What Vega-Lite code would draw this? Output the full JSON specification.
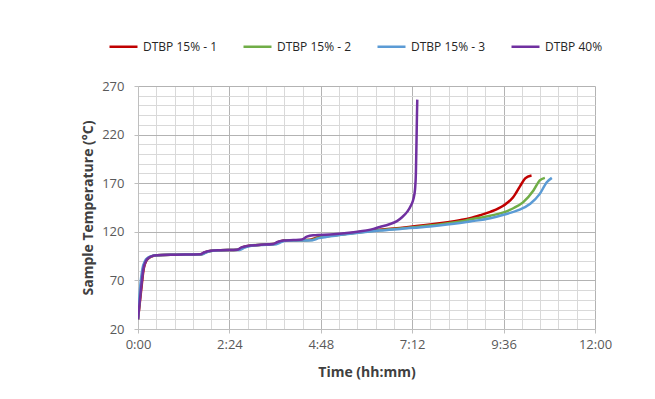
{
  "$schema": "https://vega.github.io/schema/vega-lite/v6.json",
  "width": 457,
  "height": 243,
  "autosize": {"type": "none"},
  "padding": {"left": 138, "top": 86, "right": 60, "bottom": 70},
  "background": "white",
  "config": {
    "font": "Open Sans",
    "view": {"stroke": null},
    "axis": {"labelFont": "Open Sans", "titleFont": "Open Sans"}
  },
  "datasets": {
    "curves": [
      {"s": "DTBP 15% - 1", "t": 0, "y": 30}, {"s": "DTBP 15% - 1", "t": 5, "y": 60}, {"s": "DTBP 15% - 1", "t": 9, "y": 82}, {"s": "DTBP 15% - 1", "t": 13, "y": 90}, {"s": "DTBP 15% - 1", "t": 17, "y": 93}, {"s": "DTBP 15% - 1", "t": 23, "y": 95}, {"s": "DTBP 15% - 1", "t": 30, "y": 96}, {"s": "DTBP 15% - 1", "t": 60, "y": 96.5}, {"s": "DTBP 15% - 1", "t": 99, "y": 97}, {"s": "DTBP 15% - 1", "t": 106, "y": 99}, {"s": "DTBP 15% - 1", "t": 116, "y": 100.5}, {"s": "DTBP 15% - 1", "t": 130, "y": 101}, {"s": "DTBP 15% - 1", "t": 157, "y": 101.5}, {"s": "DTBP 15% - 1", "t": 164, "y": 104}, {"s": "DTBP 15% - 1", "t": 173, "y": 105.5}, {"s": "DTBP 15% - 1", "t": 190, "y": 106.5}, {"s": "DTBP 15% - 1", "t": 214, "y": 107.5}, {"s": "DTBP 15% - 1", "t": 221, "y": 109.5}, {"s": "DTBP 15% - 1", "t": 230, "y": 111}, {"s": "DTBP 15% - 1", "t": 250, "y": 111.3}, {"s": "DTBP 15% - 1", "t": 271, "y": 111.8}, {"s": "DTBP 15% - 1", "t": 281, "y": 114}, {"s": "DTBP 15% - 1", "t": 292, "y": 115.2}, {"s": "DTBP 15% - 1", "t": 334, "y": 118.5}, {"s": "DTBP 15% - 1", "t": 381, "y": 122}, {"s": "DTBP 15% - 1", "t": 413, "y": 124}, {"s": "DTBP 15% - 1", "t": 460, "y": 127.5}, {"s": "DTBP 15% - 1", "t": 507, "y": 132}, {"s": "DTBP 15% - 1", "t": 523, "y": 134}, {"s": "DTBP 15% - 1", "t": 539, "y": 137}, {"s": "DTBP 15% - 1", "t": 555, "y": 140.5}, {"s": "DTBP 15% - 1", "t": 576, "y": 147}, {"s": "DTBP 15% - 1", "t": 591, "y": 155.6}, {"s": "DTBP 15% - 1", "t": 602, "y": 167}, {"s": "DTBP 15% - 1", "t": 610, "y": 175}, {"s": "DTBP 15% - 1", "t": 620, "y": 178},

      {"s": "DTBP 15% - 2", "t": 0, "y": 30}, {"s": "DTBP 15% - 2", "t": 4, "y": 60}, {"s": "DTBP 15% - 2", "t": 8, "y": 82}, {"s": "DTBP 15% - 2", "t": 12, "y": 90}, {"s": "DTBP 15% - 2", "t": 16, "y": 93}, {"s": "DTBP 15% - 2", "t": 22, "y": 95}, {"s": "DTBP 15% - 2", "t": 30, "y": 96}, {"s": "DTBP 15% - 2", "t": 60, "y": 96.5}, {"s": "DTBP 15% - 2", "t": 100, "y": 97}, {"s": "DTBP 15% - 2", "t": 107, "y": 99}, {"s": "DTBP 15% - 2", "t": 117, "y": 100.5}, {"s": "DTBP 15% - 2", "t": 130, "y": 101}, {"s": "DTBP 15% - 2", "t": 158, "y": 101.5}, {"s": "DTBP 15% - 2", "t": 166, "y": 104}, {"s": "DTBP 15% - 2", "t": 175, "y": 105.5}, {"s": "DTBP 15% - 2", "t": 190, "y": 106.5}, {"s": "DTBP 15% - 2", "t": 216, "y": 107.5}, {"s": "DTBP 15% - 2", "t": 223, "y": 109.5}, {"s": "DTBP 15% - 2", "t": 232, "y": 111}, {"s": "DTBP 15% - 2", "t": 250, "y": 111.2}, {"s": "DTBP 15% - 2", "t": 273, "y": 111.6}, {"s": "DTBP 15% - 2", "t": 283, "y": 113.8}, {"s": "DTBP 15% - 2", "t": 294, "y": 115}, {"s": "DTBP 15% - 2", "t": 334, "y": 118.3}, {"s": "DTBP 15% - 2", "t": 381, "y": 121.7}, {"s": "DTBP 15% - 2", "t": 413, "y": 123.5}, {"s": "DTBP 15% - 2", "t": 460, "y": 126.5}, {"s": "DTBP 15% - 2", "t": 507, "y": 130.5}, {"s": "DTBP 15% - 2", "t": 523, "y": 132.6}, {"s": "DTBP 15% - 2", "t": 555, "y": 136.5}, {"s": "DTBP 15% - 2", "t": 576, "y": 140}, {"s": "DTBP 15% - 2", "t": 592, "y": 144.5}, {"s": "DTBP 15% - 2", "t": 607, "y": 150.5}, {"s": "DTBP 15% - 2", "t": 623, "y": 162.5}, {"s": "DTBP 15% - 2", "t": 633, "y": 172.8}, {"s": "DTBP 15% - 2", "t": 641, "y": 175.5},

      {"s": "DTBP 15% - 3", "t": 0, "y": 30}, {"s": "DTBP 15% - 3", "t": 3, "y": 60}, {"s": "DTBP 15% - 3", "t": 7, "y": 82}, {"s": "DTBP 15% - 3", "t": 11, "y": 90}, {"s": "DTBP 15% - 3", "t": 15, "y": 93}, {"s": "DTBP 15% - 3", "t": 21, "y": 95}, {"s": "DTBP 15% - 3", "t": 30, "y": 96}, {"s": "DTBP 15% - 3", "t": 60, "y": 96.5}, {"s": "DTBP 15% - 3", "t": 101, "y": 97}, {"s": "DTBP 15% - 3", "t": 108, "y": 99}, {"s": "DTBP 15% - 3", "t": 118, "y": 100.5}, {"s": "DTBP 15% - 3", "t": 130, "y": 101}, {"s": "DTBP 15% - 3", "t": 160, "y": 101.3}, {"s": "DTBP 15% - 3", "t": 168, "y": 103.8}, {"s": "DTBP 15% - 3", "t": 177, "y": 105.3}, {"s": "DTBP 15% - 3", "t": 190, "y": 106.3}, {"s": "DTBP 15% - 3", "t": 218, "y": 107.3}, {"s": "DTBP 15% - 3", "t": 225, "y": 109.3}, {"s": "DTBP 15% - 3", "t": 234, "y": 110.8}, {"s": "DTBP 15% - 3", "t": 250, "y": 111}, {"s": "DTBP 15% - 3", "t": 275, "y": 111.4}, {"s": "DTBP 15% - 3", "t": 285, "y": 113.5}, {"s": "DTBP 15% - 3", "t": 296, "y": 114.7}, {"s": "DTBP 15% - 3", "t": 334, "y": 118}, {"s": "DTBP 15% - 3", "t": 381, "y": 121.3}, {"s": "DTBP 15% - 3", "t": 413, "y": 123}, {"s": "DTBP 15% - 3", "t": 460, "y": 125.5}, {"s": "DTBP 15% - 3", "t": 507, "y": 129}, {"s": "DTBP 15% - 3", "t": 523, "y": 130.6}, {"s": "DTBP 15% - 3", "t": 555, "y": 134}, {"s": "DTBP 15% - 3", "t": 576, "y": 137.5}, {"s": "DTBP 15% - 3", "t": 598, "y": 142}, {"s": "DTBP 15% - 3", "t": 618, "y": 148.8}, {"s": "DTBP 15% - 3", "t": 633, "y": 159}, {"s": "DTBP 15% - 3", "t": 644, "y": 171}, {"s": "DTBP 15% - 3", "t": 652, "y": 175.5},

      {"s": "DTBP 40%", "t": 0, "y": 30}, {"s": "DTBP 40%", "t": 4.5, "y": 60}, {"s": "DTBP 40%", "t": 8.5, "y": 82}, {"s": "DTBP 40%", "t": 12.5, "y": 90}, {"s": "DTBP 40%", "t": 16.5, "y": 93}, {"s": "DTBP 40%", "t": 22, "y": 95}, {"s": "DTBP 40%", "t": 30, "y": 96}, {"s": "DTBP 40%", "t": 60, "y": 96.5}, {"s": "DTBP 40%", "t": 98, "y": 97}, {"s": "DTBP 40%", "t": 105, "y": 99}, {"s": "DTBP 40%", "t": 115, "y": 100.5}, {"s": "DTBP 40%", "t": 130, "y": 101}, {"s": "DTBP 40%", "t": 156, "y": 101.5}, {"s": "DTBP 40%", "t": 163, "y": 104}, {"s": "DTBP 40%", "t": 172, "y": 105.5}, {"s": "DTBP 40%", "t": 190, "y": 106.5}, {"s": "DTBP 40%", "t": 213, "y": 107.5}, {"s": "DTBP 40%", "t": 220, "y": 109.5}, {"s": "DTBP 40%", "t": 229, "y": 111}, {"s": "DTBP 40%", "t": 245, "y": 111.5}, {"s": "DTBP 40%", "t": 258, "y": 112}, {"s": "DTBP 40%", "t": 266, "y": 115}, {"s": "DTBP 40%", "t": 276, "y": 116.5}, {"s": "DTBP 40%", "t": 308, "y": 117.5}, {"s": "DTBP 40%", "t": 340, "y": 119.6}, {"s": "DTBP 40%", "t": 371, "y": 123}, {"s": "DTBP 40%", "t": 381, "y": 125}, {"s": "DTBP 40%", "t": 395, "y": 127.5}, {"s": "DTBP 40%", "t": 408, "y": 131}, {"s": "DTBP 40%", "t": 416, "y": 135}, {"s": "DTBP 40%", "t": 424, "y": 140.5}, {"s": "DTBP 40%", "t": 430, "y": 147}, {"s": "DTBP 40%", "t": 434, "y": 154}, {"s": "DTBP 40%", "t": 436.5, "y": 164}, {"s": "DTBP 40%", "t": 437.8, "y": 180}, {"s": "DTBP 40%", "t": 438.7, "y": 210}, {"s": "DTBP 40%", "t": 439.5, "y": 240}, {"s": "DTBP 40%", "t": 440, "y": 256}
    ]
  },
  "data": {"name": "curves"},
  "mark": {"type": "line", "strokeWidth": 2.5, "interpolate": "monotone", "clip": true},
  "encoding": {
    "x": {
      "field": "t",
      "type": "quantitative",
      "scale": {"domain": [0, 720], "nice": false, "zero": false},
      "axis": {
        "values": [0, 28.8, 57.6, 86.4, 115.2, 144, 172.8, 201.6, 230.4, 259.2, 288, 316.8, 345.6, 374.4, 403.2, 432, 460.8, 489.6, 518.4, 547.2, 576, 604.8, 633.6, 662.4, 691.2, 720],
        "labelExpr": "abs(datum.value/144 - round(datum.value/144)) < 0.01 ? (floor(round(datum.value)/60) + ':' + (round(datum.value) % 60 < 10 ? '0' : '') + (round(datum.value) % 60)) : ''",
        "labelOverlap": false,
        "labelFlush": false,
        "labelFontSize": 13,
        "labelColor": "#595959",
        "labelPadding": 5,
        "gridColor": {"condition": {"test": "abs(datum.value/144 - round(datum.value/144)) < 0.01", "value": "#b3b3b3"}, "value": "#d9d9d9"},
        "tickColor": "#bfbfbf",
        "tickOpacity": {"condition": {"test": "abs(datum.value/144 - round(datum.value/144)) < 0.01", "value": 1}, "value": 0},
        "tickSize": 4,
        "domainColor": "#bfbfbf",
        "title": "Time (hh:mm)",
        "titleFontSize": 14,
        "titleFontWeight": "bold",
        "titleColor": "#404040",
        "titlePadding": 14
      }
    },
    "y": {
      "field": "y",
      "type": "quantitative",
      "scale": {"domain": [20, 270], "nice": false, "zero": false},
      "axis": {
        "values": [20, 30, 40, 50, 60, 70, 80, 90, 100, 110, 120, 130, 140, 150, 160, 170, 180, 190, 200, 210, 220, 230, 240, 250, 260, 270],
        "labelExpr": "(datum.value - 20) % 50 == 0 ? datum.value : ''",
        "labelOverlap": false,
        "labelFlush": false,
        "labelFontSize": 13,
        "labelColor": "#595959",
        "labelPadding": 10,
        "gridColor": {"condition": {"test": "(datum.value - 20) % 50 == 0", "value": "#b3b3b3"}, "value": "#d9d9d9"},
        "tickColor": "#bfbfbf",
        "tickOpacity": {"condition": {"test": "(datum.value - 20) % 50 == 0", "value": 1}, "value": 0},
        "tickSize": 4,
        "domainColor": "#bfbfbf",
        "title": "Sample Temperature (°C)",
        "titleFontSize": 14,
        "titleFontWeight": "bold",
        "titleColor": "#404040",
        "titlePadding": 6
      }
    },
    "color": {
      "field": "s",
      "type": "nominal",
      "scale": {
        "domain": ["DTBP 15% - 1", "DTBP 15% - 2", "DTBP 15% - 3", "DTBP 40%"],
        "range": ["#C00000", "#70AD47", "#5B9BD5", "#7030A0"]
      },
      "legend": {
        "orient": "none",
        "legendX": -30,
        "legendY": -55,
        "direction": "horizontal",
        "columns": 4,
        "gridAlign": "all",
        "title": null,
        "padding": 0,
        "symbolType": "stroke",
        "symbolSize": 784,
        "symbolStrokeWidth": 2.5,
        "labelOffset": 4,
        "columnPadding": 20,
        "labelFontSize": 12,
        "labelFont": "Open Sans",
        "labelColor": "#262626"
      }
    }
  }
}
